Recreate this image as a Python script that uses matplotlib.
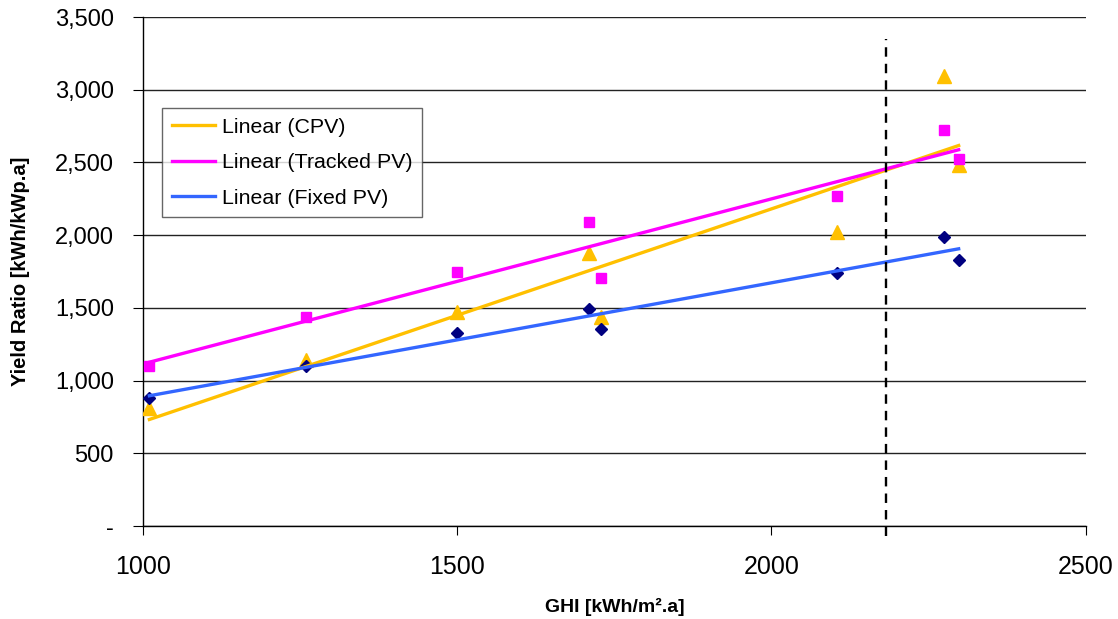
import numpy as np
import matplotlib.pyplot as plt
from matplotlib.ticker import FuncFormatter, MultipleLocator

plt.rcParams['font.family'] = ['Liberation Sans', 'DejaVu Sans']

# annual global horizontal irradiation per site [kWh/m2.a]
ghi = [1010, 1260, 1500, 1709, 1728, 2104, 2275, 2298]

# specific yield per technology [kWh/kWp.a]
cpv = [813, 1144, 1475, 1881, 1440, 2025, 3094, 2481]
tracked_pv = [1103, 1440, 1744, 2088, 1709, 2270, 2722, 2522]
fixed_pv = [882, 1100, 1330, 1495, 1358, 1740, 1985, 1833]

dni_threshold = 2182

series = [
    ("CPV", cpv, "#FFC000", "#FFC000", "^", 9.5),
    ("Tracked PV", tracked_pv, "#FF00FF", "#FF00FF", "s", 7.5),
    ("Fixed PV", fixed_pv, "#3366FF", "#000080", "D", 6.5),
]

fig = plt.figure(figsize=(11.18, 6.19), dpi=100)
ax = fig.add_axes([0.128, 0.150, 0.843, 0.8225])

x = np.array(ghi, dtype=float)
handles = []
for name, vals, line_c, mark_c, mk, ms in series:
    y = np.array(vals, dtype=float)
    ax.plot(x, y, linestyle="none", marker=mk, markersize=ms,
            color=mark_c, markeredgecolor=mark_c, zorder=3)
    # least-squares trend over the measured range
    slope, icpt = np.polyfit(x, y, 1)
    xs = np.array([x.min(), x.max()])
    h, = ax.plot(xs, slope * xs + icpt, color=line_c, lw=2.4, zorder=4,
                 label=f"Linear ({name})")
    handles.append(h)

ax.plot([dni_threshold, dni_threshold], [-70, 3350], color="black",
        lw=1.7, linestyle=(0, (4, 3)), clip_on=False, zorder=5)

ax.set_xlim(1000, 2500)
ax.set_ylim(0, 3500)
ax.xaxis.set_major_locator(MultipleLocator(500))
ax.yaxis.set_major_locator(MultipleLocator(500))
ax.yaxis.set_major_formatter(
    FuncFormatter(lambda v, p: "-" if v == 0 else f"{int(v):,}"))

ax.grid(axis="y", color="#222222", lw=1.0)
ax.set_axisbelow(True)
for s in ("top", "right"):
    ax.spines[s].set_visible(False)
for s in ("left", "bottom"):
    ax.spines[s].set_color("black")
    ax.spines[s].set_linewidth(1.0)

ax.tick_params(axis="y", labelsize=17, length=7, pad=14)
ax.tick_params(axis="x", labelsize=18, length=6.5, pad=14)

ax.set_xlabel("GHI [kWh/m².a]", fontsize=14, fontweight="bold", labelpad=14)
ax.set_ylabel("Yield Ratio [kWh/kWp.a]", fontsize=14.5, fontweight="bold",
              labelpad=18)

leg = ax.legend(handles=handles, loc="upper left",
                bbox_to_anchor=(0.020, 0.821), borderaxespad=0,
                fontsize=15.4, frameon=True, fancybox=False,
                edgecolor="#404040", handlelength=2.05,
                borderpad=0.45, labelspacing=0.77, handletextpad=0.3)
leg.get_frame().set_linewidth(1.0)

fig.savefig("out.png", dpi=100)
